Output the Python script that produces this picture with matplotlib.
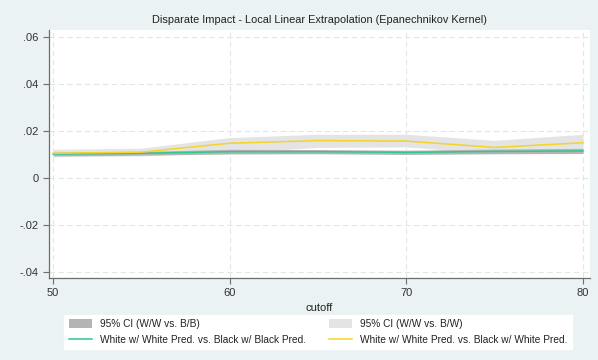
import matplotlib
matplotlib.use("Agg")
import matplotlib.pyplot as plt
from matplotlib.patches import Patch
from matplotlib.lines import Line2D

plt.rcParams["font.family"] = ["Liberation Sans", "DejaVu Sans"]

cutoff = [50, 55, 60, 65, 70, 75, 80]
ww_bb = [0.0102, 0.0105, 0.0112, 0.0112, 0.0109, 0.0113, 0.0115]
ww_bb_lo = [0.0094, 0.0097, 0.0102, 0.0103, 0.0100, 0.0103, 0.0104]
ww_bb_hi = [0.0110, 0.0113, 0.0122, 0.0121, 0.0118, 0.0123, 0.0126]
ww_bw = [0.0105, 0.0110, 0.0148, 0.0159, 0.0157, 0.0130, 0.0150]
ww_bw_lo = [0.0090, 0.0094, 0.0108, 0.0130, 0.0132, 0.0105, 0.0112]
ww_bw_hi = [0.0122, 0.0127, 0.0172, 0.0186, 0.0186, 0.0160, 0.0186]
yticks = [-0.04, -0.02, 0, 0.02, 0.04, 0.06]
ytick_labels = ["-.04", "-.02", "0", ".02", ".04", ".06"]
xticks = [50, 60, 70, 80]

bg = "#EAF2F3"
W, H = 598, 360
fig = plt.figure(figsize=(W / 100, H / 100), dpi=100, facecolor=bg)
ax = fig.add_axes([49 / W, 1 - 278 / H, (590 - 49) / W, (278 - 30) / H])
ax.set_facecolor("white")

ax.fill_between(cutoff, ww_bw_lo, ww_bw_hi, color="#E4E4E4", lw=0, zorder=2)
ax.fill_between(cutoff, ww_bb_lo, ww_bb_hi, color="#B4B4B4", lw=0, zorder=3)
ax.plot(cutoff, ww_bb, color="#2DC98E", lw=1.1, zorder=4)
ax.plot(cutoff, ww_bw, color="#F5D327", lw=1.1, zorder=4)

ax.set_xlim(49.77, 80.4)
ax.set_ylim(-0.0426, 0.063)
ax.set_yticks(yticks)
ax.set_yticklabels(ytick_labels)
ax.set_xticks(xticks)
ax.grid(True, color="#E3E6E7", ls=(0, (5, 3)), lw=0.8, zorder=1)
for s in ("top", "right"):
    ax.spines[s].set_visible(False)
for s in ("left", "bottom"):
    ax.spines[s].set_color("#6E6E6E")
    ax.spines[s].set_linewidth(0.9)
ax.tick_params(axis="both", direction="out", length=4, color="#6E6E6E",
               labelsize=8, labelcolor="#333333", width=0.8)
ax.set_xlabel("cutoff", fontsize=8, color="#222222", labelpad=3)
ax.set_title("Disparate Impact - Local Linear Extrapolation (Epanechnikov Kernel)",
             fontsize=7.9, color="#222222", pad=5)

handles = [
    Patch(facecolor="#B4B4B4", edgecolor="none"),
    Line2D([], [], color="#2DC98E", lw=1.1),
    Patch(facecolor="#E4E4E4", edgecolor="none"),
    Line2D([], [], color="#F5D327", lw=1.1),
]
labels = [
    "95% CI (W/W vs. B/B)",
    "White w/ White Pred. vs. Black w/ Black Pred.",
    "95% CI (W/W vs. B/W)",
    "White w/ White Pred. vs. Black w/ White Pred.",
]
leg = fig.legend(handles, labels, ncol=2, loc="center",
                 bbox_to_anchor=(318 / W, 1 - 332 / H), fontsize=7.3,
                 frameon=True, fancybox=False, edgecolor="white",
                 facecolor="white", framealpha=1, columnspacing=2.3,
                 handlelength=2.3, handleheight=1.0, handletextpad=0.75,
                 labelspacing=0.55, borderpad=0.45)
for t in leg.get_texts():
    t.set_color("#222222")

fig.savefig("out.png", dpi=100, facecolor=bg)
